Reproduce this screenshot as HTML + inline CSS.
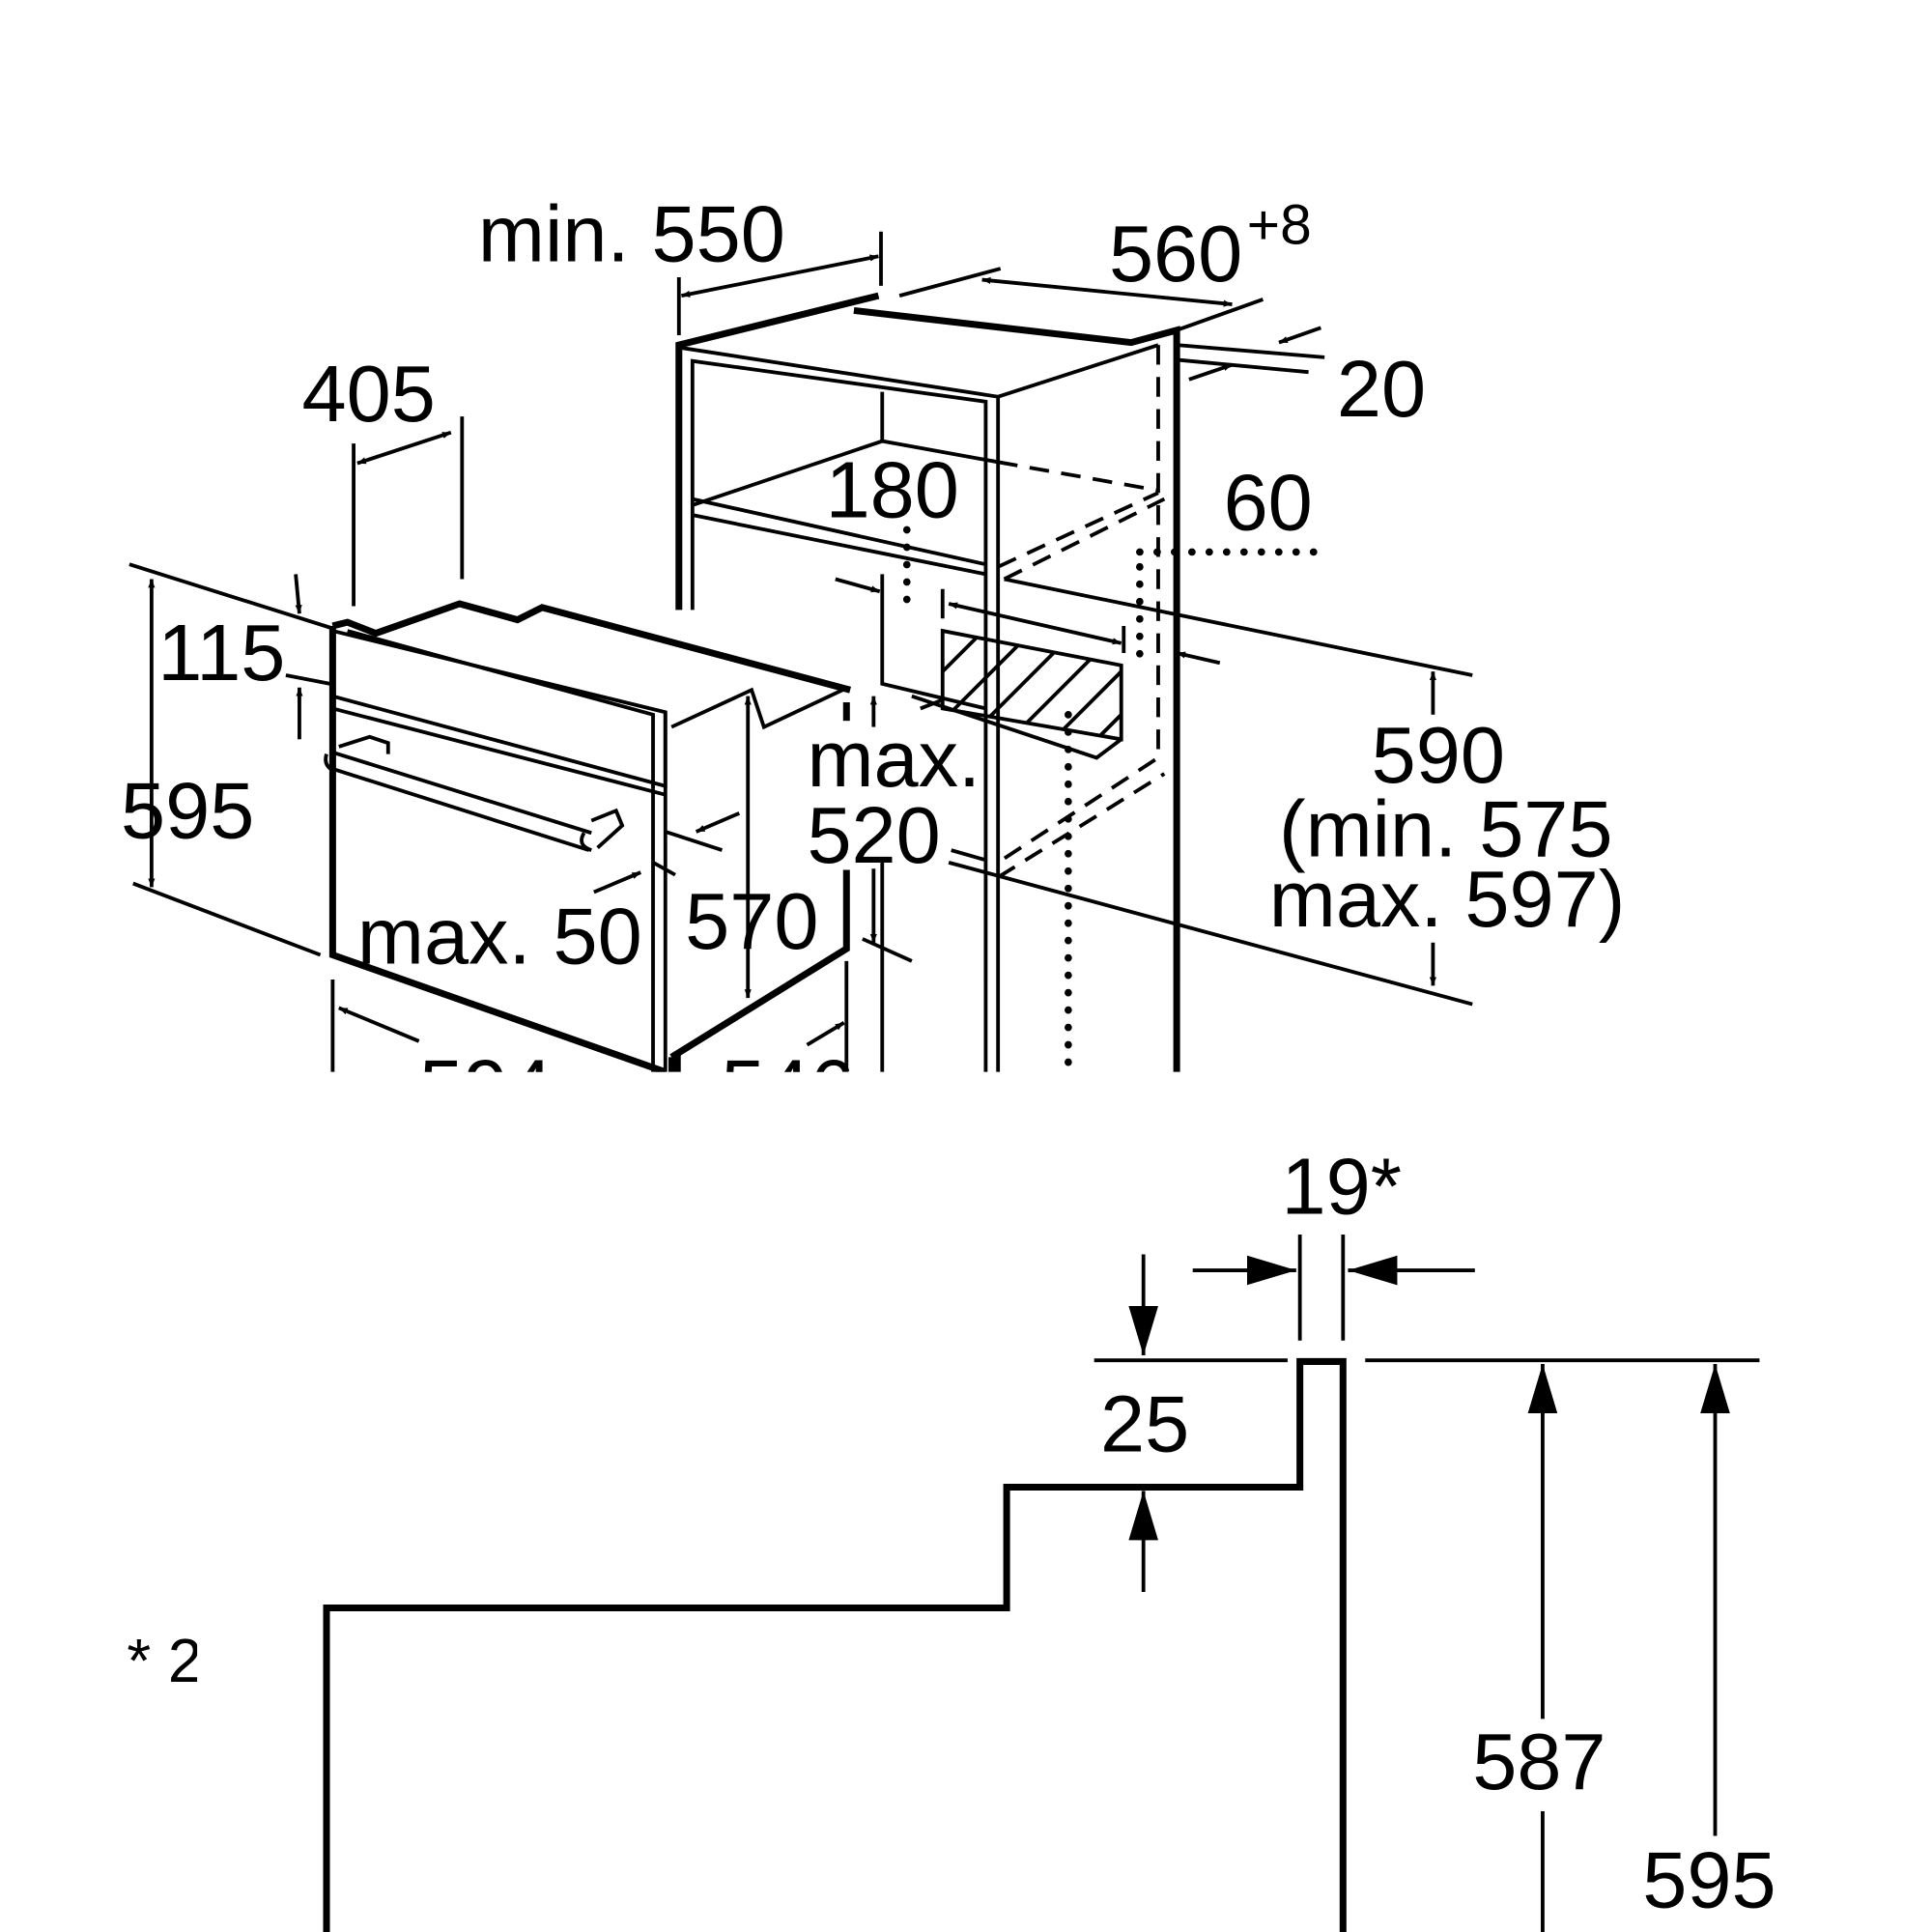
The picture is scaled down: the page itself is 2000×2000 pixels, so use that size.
<!DOCTYPE html>
<html><head><meta charset="utf-8"><style>html,body{margin:0;padding:0;background:#fff}svg{display:block}</style></head>
<body>
<svg width="2000" height="2000" viewBox="0 0 1568 1568" xmlns="http://www.w3.org/2000/svg" font-family="Liberation Sans, sans-serif" fill="none" stroke="#000">
<defs>
<marker id="a" viewBox="0 0 10 10" refX="10" refY="5" markerWidth="7" markerHeight="7" orient="auto-start-reverse" markerUnits="userSpaceOnUse"><path d="M0,1 L10,5 L0,9z" fill="#000" stroke="none"/></marker>
<marker id="b" viewBox="0 0 10 10" refX="10" refY="5" markerWidth="40" markerHeight="24" orient="auto-start-reverse" markerUnits="userSpaceOnUse" preserveAspectRatio="none"><path d="M0,0 L10,5 L0,10z" fill="#000" stroke="none"/></marker>
<clipPath id="top"><rect x="0" y="0" width="1568" height="870"/></clipPath>
<clipPath id="hat"><path d="M765,512 L910,540 L910,600 L765,575z"/></clipPath>
</defs>

<g clip-path="url(#top)" stroke-width="3">
<path d="M551,495 L551,280 L713,240" stroke-width="5.5"/>
<path d="M693,252 L918,278 L955,268 L955,870" stroke-width="5.5"/>
<path d="M551,282 L810,322 L940,280"/>
<path d="M562,495 L562,293 L800,326 L800,870"/>
<path d="M810,322 L810,870"/>
<path d="M716,318 L716,358"/>
<path d="M562,410 L716,358 L810,375"/>
<path d="M562,405 L800,458"/>
<path d="M562,418 L800,466"/>
<path d="M716,466 L716,555 L800,575"/>
<path d="M810,375 L940,398 M810,460 L940,400 M815,470 L945,405 M940,280 L940,615 L810,700 M810,712 L945,628" stroke-dasharray="16,10"/>
<path d="M736,430 L736,492 M925,448 L1075,448 M925,460 L925,535 M867,580 L867,870" stroke-width="6" stroke-dasharray="0.1,14" stroke-linecap="round"/>
<path d="M765,512 L910,540 L910,600 L765,575z"/>
<g clip-path="url(#hat)"><path d="M750,560 L800,510 M770,580 L840,510 M800,585 L870,515 M830,590 L900,520 M860,595 L930,525 M890,600 L960,530"/></g>
<path d="M747,575 L765,568 M740,565 L890,615 L910,600"/>
<path d="M815,470 L1195,548 M770,700 L1195,815"/>
<path d="M1163,580 L1163,545" marker-end="url(#a)"/>
<path d="M1163,765 L1163,800" marker-end="url(#a)"/>
<path d="M765,478 L765,502 M912,508 L912,530"/>
<path d="M770,490 L910,522" marker-start="url(#a)" marker-end="url(#a)"/>
<path d="M678,470 L714,480" marker-end="url(#a)"/>
<path d="M955,530 L990,538" marker-start="url(#a)"/>
<path d="M551,225 L551,272 M715,188 L715,232"/>
<path d="M553,240 L713,208" marker-start="url(#a)" marker-end="url(#a)"/>
<path d="M730,240 L812,218 M955,268 L1025,243"/>
<path d="M797,227 L1000,247" marker-start="url(#a)" marker-end="url(#a)"/>
<path d="M955,280 L1075,290 M955,292 L1062,302"/>
<path d="M1072,266 L1038,278" marker-end="url(#a)"/>
<path d="M965,308 L1000,296" marker-end="url(#a)"/>
<path d="M270,508 L270,775 L540,870" stroke-width="5.5"/>
<path d="M270,508 L282,505 L305,514 L373,490 L420,503 L440,493 L690,560" stroke-width="5.5"/>
<path d="M270,512 L540,578 L540,638 L270,565"/>
<path d="M282,512 L530,580 L530,640"/>
<path d="M270,575 L540,645"/>
<path d="M540,578 L540,870 M530,640 L530,870 M545,590 L610,560 L620,590 L688,558"/>
<path d="M687,706 L687,770 L545,858" stroke-width="5.5"/>
<path d="M687,570 L687,585" stroke-width="5.5"/>
<path d="M268,610 L480,676 M270,624 L478,690"/>
<path d="M265,612 Q262,622 272,626 M474,676 Q468,686 480,690"/>
<path d="M275,606 L300,598 L315,603 L315,612 M480,666 L500,658 L505,670 L485,688"/>
<path d="M105,458 L270,510 M108,717 L260,775"/>
<path d="M123,470 L123,720" marker-start="url(#a)" marker-end="url(#a)"/>
<path d="M240,466 L243,498" marker-end="url(#a)"/>
<path d="M243,600 L243,558" marker-end="url(#a)"/>
<path d="M232,548 L268,555"/>
<path d="M287,360 L287,492 M375,338 L375,470"/>
<path d="M290,376 L366,351" marker-start="url(#a)" marker-end="url(#a)"/>
<path d="M607,565 L607,810" marker-start="url(#a)" marker-end="url(#a)"/>
<path d="M540,675 L586,690 M530,700 L548,710"/>
<path d="M600,660 L565,675" marker-end="url(#a)"/>
<path d="M482,724 L520,708" marker-end="url(#a)"/>
<path d="M709,590 L709,565" marker-end="url(#a)"/>
<path d="M709,705 L709,765" marker-end="url(#a)"/>
<path d="M700,762 L740,780 M716,700 L716,870 M687,780 L687,870 M772,690 L800,698"/>
<path d="M270,795 L270,870"/>
<path d="M275,818 L340,845" marker-start="url(#a)"/>
<path d="M655,848 L685,830" marker-end="url(#a)"/>
<path d="M545,858 L545,870 M550,855 L550,870" stroke-width="5"/>
<g fill="#000" stroke="none" font-size="65">
<text x="388" y="212">min. 550</text>
<text x="900" y="228">560</text><text x="1012" y="198" font-size="46">+8</text>
<text x="1085" y="338">20</text>
<text x="245" y="342">405</text>
<text x="670" y="420">180</text>
<text x="993" y="430">60</text>
<text x="128" y="552">115</text>
<text x="98" y="680">595</text>
<text x="655" y="638">max.</text>
<text x="655" y="700">520</text>
<text x="1113" y="635">590</text>
<text x="1038" y="695">(min. 575</text>
<text x="1030" y="752">max. 597)</text>
<text x="290" y="782">max. 50</text>
<text x="556" y="770">570</text>
<text x="340" y="905">594</text>
<text x="585" y="905">546</text>
</g>
</g>

<g stroke-width="3">
<path d="M265,1568 L265,1305 L817,1305 L817,1207 L1055,1207 L1055,1105 L1090,1105 L1090,1568" stroke-width="5.5"/>
<path d="M888,1104 L1045,1104 M1108,1104 L1428,1104"/>
<path d="M1055,1002 L1055,1088 M1090,1002 L1090,1088"/>
<path d="M968,1031 L1052,1031" marker-end="url(#b)"/>
<path d="M1197,1031 L1094,1031" marker-end="url(#b)"/>
<path d="M928,1018 L928,1100" marker-end="url(#b)"/>
<path d="M928,1292 L928,1210" marker-end="url(#b)"/>
<path d="M1252,1395 L1252,1107" marker-end="url(#b)"/>
<path d="M1252,1470 L1252,1568"/>
<path d="M1392,1490 L1392,1107" marker-end="url(#b)"/>
</g>
<g fill="#000" stroke="none" font-size="65">
<text x="1040" y="985">19*</text>
<text x="893" y="1178">25</text>
<text x="1195" y="1452">587</text>
<text x="1333" y="1548">595</text>
</g>
<svg x="0" y="1300" width="160" height="100"><text x="103" y="65" font-size="50" fill="#000" stroke="none">* 2</text></svg>
</svg>
</body></html>
